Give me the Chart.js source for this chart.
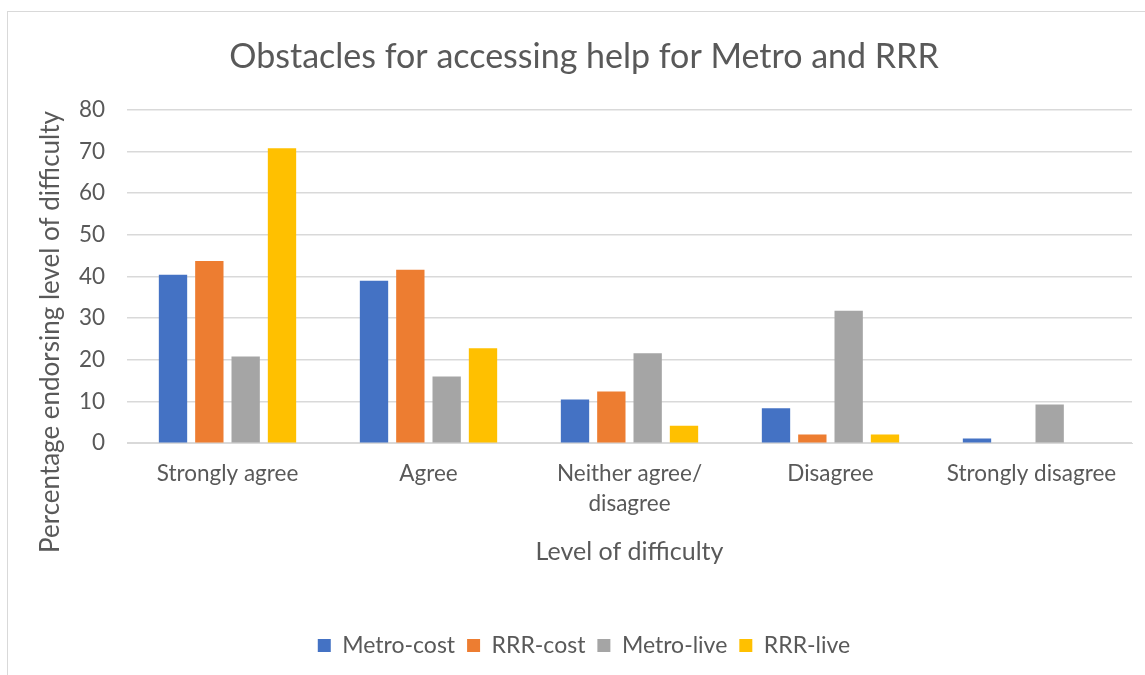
<!DOCTYPE html>
<html>
<head>
<meta charset="utf-8">
<script src="https://cdn.jsdelivr.net/npm/chart.js@4"></script>
<style>
  html, body { margin: 0; padding: 0; background: #fff; overflow: hidden; width: 1145px; height: 675px; }
  #frame { position: absolute; left: 7px; top: 11px; width: 1160px; height: 680px; border: 1px solid #d9d9d9; box-sizing: border-box; }
  #wrap { position: absolute; left: 8px; top: 12px; width: 1160px; height: 663px; }
</style>
</head>
<body>
<div id="frame"></div>
<div id="wrap"><canvas id="c"></canvas></div>
<script>
const categories = ["Strongly agree", "Agree", ["Neither agree/", "disagree"], "Disagree", "Strongly disagree"];
const metroCost = [40.4, 39.0, 10.5, 8.4, 1.1];
const rrrCost   = [43.7, 41.6, 12.4, 2.1, 0];
const metroLive = [20.8, 16.0, 21.6, 31.8, 9.3];
const rrrLive   = [70.8, 22.8, 4.2, 2.1, 0];
const seriesNames = ["Metro-cost", "RRR-cost", "Metro-live", "RRR-live"];
const yTicks = [0, 10, 20, 30, 40, 50, 60, 70, 80];

const FONT = "Lato, 'Open Sans', sans-serif";
const TXT = "#595959";

const yTitlePlugin = {
  id: 'yTitle',
  afterDraw(chart) {
    const ctx = chart.ctx;
    ctx.save();
    ctx.translate(43, 320);
    ctx.rotate(-Math.PI / 2);
    ctx.font = "26px " + FONT;
    ctx.fillStyle = TXT;
    ctx.textAlign = "center";
    ctx.textBaseline = "middle";
    ctx.fillText("Percentage endorsing level of difficulty", 0, 0);
    ctx.restore();
  }
};

new Chart(document.getElementById('c'), {
  type: 'bar',
  data: {
    labels: categories,
    datasets: [
      { label: seriesNames[0], data: metroCost, backgroundColor: '#4472C4' },
      { label: seriesNames[1], data: rrrCost,   backgroundColor: '#ED7D31' },
      { label: seriesNames[2], data: metroLive, backgroundColor: '#A5A5A5' },
      { label: seriesNames[3], data: rrrLive,   backgroundColor: '#FFC000' }
    ]
  },
  options: {
    responsive: true,
    maintainAspectRatio: false,
    animation: false,
    datasets: { bar: { categoryPercentage: 0.723, barPercentage: 0.78 } },
    layout: { padding: { left: 28, right: 36, top: 0, bottom: 8 } },
    plugins: {
      title: {
        display: true,
        text: "Obstacles for accessing help for Metro and RRR",
        color: TXT,
        font: { family: FONT, size: 34, weight: 'normal' },
        padding: { top: 25, bottom: 32 }
      },
      legend: {
        position: 'bottom',
        labels: {
          color: TXT,
          font: { family: FONT, size: 23 },
          boxWidth: 13, boxHeight: 13,
          padding: 12
        }
      },
      tooltip: { enabled: false }
    },
    scales: {
      x: {
        grid: { display: false },
        border: { color: '#d9d9d9', width: 1 },
        ticks: { color: TXT, font: { family: FONT, size: 22.5, lineHeight: 1.33 }, maxRotation: 0, padding: 8 },
        title: {
          display: true, text: "Level of difficulty", color: TXT,
          font: { family: FONT, size: 25 },
          padding: { top: 10, bottom: 55 }
        }
      },
      y: {
        min: 0, max: 80,
        afterFit(scale) { scale.width = 91; },
        afterBuildTicks(scale) { scale.ticks = yTicks.map(v => ({ value: v })); },
        grid: { color: '#d9d9d9', lineWidth: 1.5, drawTicks: false },
        border: { display: false },
        ticks: { color: TXT, font: { family: FONT, size: 22.5 }, padding: 22 }
      }
    }
  },
  plugins: [yTitlePlugin]
});
</script>
</body>
</html>
